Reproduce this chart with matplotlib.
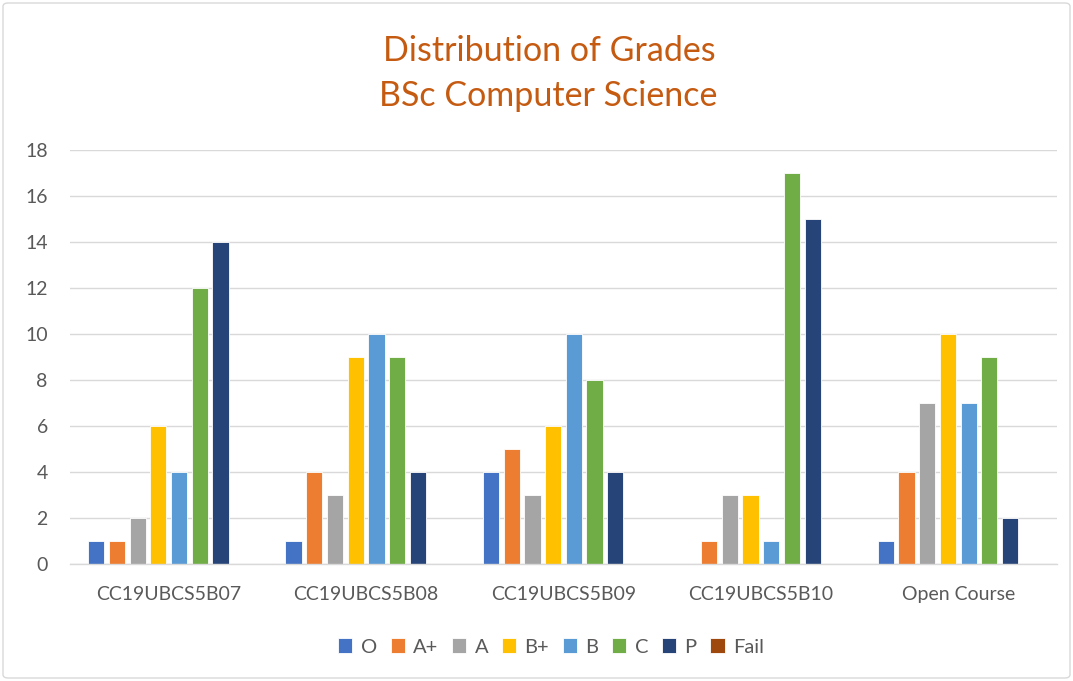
import matplotlib
matplotlib.use("Agg")
import matplotlib.pyplot as plt
from matplotlib.patches import FancyBboxPatch
import numpy as np

categories = ["CC19UBCS5B07", "CC19UBCS5B08", "CC19UBCS5B09", "CC19UBCS5B10", "Open Course"]
grades = ["O", "A+", "A", "B+", "B", "C", "P", "Fail"]
values_O = [1, 1, 4, 0, 1]
values_Aplus = [1, 4, 5, 1, 4]
values_A = [2, 3, 3, 3, 7]
values_Bplus = [6, 9, 6, 3, 10]
values_B = [4, 10, 10, 1, 7]
values_C = [12, 9, 8, 17, 9]
values_P = [14, 4, 4, 15, 2]
values_Fail = [0, 0, 0, 0, 0]
series = [values_O, values_Aplus, values_A, values_Bplus, values_B, values_C, values_P, values_Fail]
colors = ["#4472C4", "#ED7D31", "#A5A5A5", "#FFC000", "#5B9BD5", "#70AD47", "#264478", "#9E480E"]

plt.rcParams['font.family'] = ['Lato', 'DejaVu Sans']
fig = plt.figure(figsize=(10.73, 6.81), dpi=100)
ax = fig.add_axes([70/1073, 117/681, (1057-70)/1073, (564-150)/681])

x = np.arange(len(categories))
step = 0.105
width = 0.082
for i, (vals, col, g) in enumerate(zip(series, colors, grades)):
    offs = (i - 3.5) * step
    ax.bar(x + offs, vals, width, color=col, label=g, edgecolor="white", linewidth=0.6, zorder=3)

ax.set_xlim(-0.5, len(categories) - 0.5)
ax.set_ylim(0, 18)
ax.set_yticks(range(0, 19, 2))
ax.set_xticks(x)
ax.set_xticklabels(categories)
ax.tick_params(axis='x', length=0, labelsize=14, colors="#595959", pad=16)
ax.tick_params(axis='y', length=0, labelsize=14, colors="#595959", pad=16)
ax.grid(axis='y', color="#D9D9D9", linewidth=1, zorder=0)
for s in ["top", "right", "left"]:
    ax.spines[s].set_visible(False)
ax.spines["bottom"].set_color("#D9D9D9")
ax.spines["bottom"].set_linewidth(1)
ax.spines["bottom"].set_zorder(4)

fig.text(549/1073, 1 - 51/681, "Distribution of Grades", ha="center", va="center", fontsize=24.5, color="#C55A11")
fig.text(548/1073, 1 - 96/681, "BSc Computer Science", ha="center", va="center", fontsize=24.5, color="#C55A11")

leg = fig.legend(loc="center", bbox_to_anchor=(551/1073, 1 - 647/681), ncol=8, frameon=False,
                 fontsize=14.5, handlelength=0.7, handleheight=0.7, handletextpad=0.4, columnspacing=0.7)
for t in leg.get_texts():
    t.set_color("#595959")

border = FancyBboxPatch((3/1073, 3/681), 1 - 6/1073, 1 - 6/681, boxstyle="round,pad=0,rounding_size=0.005",
                        transform=fig.transFigure, fill=False, edgecolor="#D9D9D9", linewidth=1)
fig.patches.append(border)

fig.savefig("out.png", dpi=100, facecolor="white")
